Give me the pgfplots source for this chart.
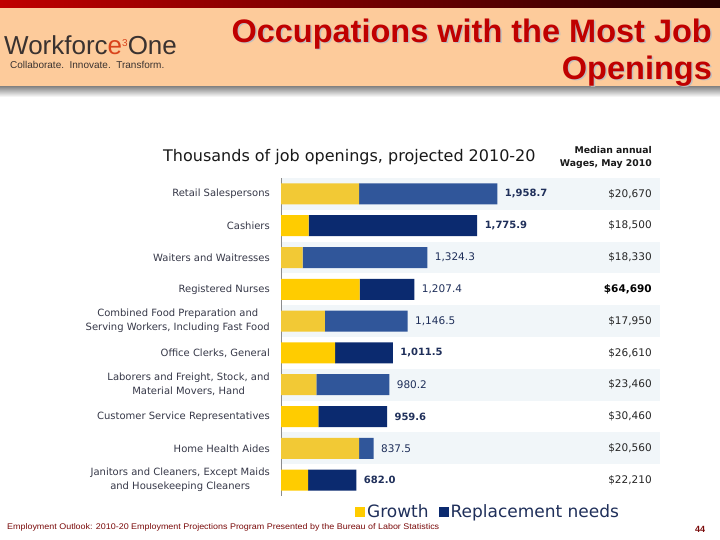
\documentclass[border=0pt]{standalone}
\usepackage{pgfplots}
\pgfplotsset{compat=1.18}
\usepackage{pgfplotstable}
\usepackage{fontspec}
\setmainfont{DejaVu Sans}
\newfontfamily\arialfont{Liberation Sans}

\definecolor{hdrpeach}{HTML}{FDCB9B}
\definecolor{hdrred}{HTML}{C00000}
\definecolor{titlered}{HTML}{C00000}
\definecolor{logogray}{HTML}{3A3230}
\definecolor{logored}{HTML}{D9441C}
\definecolor{yelA}{HTML}{F2C935}
\definecolor{yelB}{HTML}{FFCC00}
\definecolor{bluA}{HTML}{30569A}
\definecolor{bluB}{HTML}{0B2A6F}
\definecolor{stripe}{HTML}{F1F6F9}
\definecolor{labgray}{HTML}{363848}
\definecolor{valblue}{HTML}{1F2F5A}
\definecolor{legtext}{HTML}{1F2F5A}
\definecolor{footred}{HTML}{7A0A0A}

% growth, replacement needs, total (thousands), row 0 = top; p = 1 on the darker rows
\pgfplotstableread{
row p g r t
0 0 706.8 1251.9 1958.7
1 1 250.2 1525.7 1775.9
2 0 196.3 1128.0 1324.3
3 1 711.9 495.5 1207.4
4 0 398.0 748.5 1146.5
5 1 489.5 522.0 1011.5
6 0 319.1 661.1 980.2
7 1 338.4 621.2 959.6
8 0 706.3 131.2 837.5
9 1 246.4 435.6 682.0
}\jobs

\pgfplotsset{
  common/.style={
    at={(281pt,44pt)}, anchor=south west,
    width=379pt, height=318pt, scale only axis,
    xmin=0, xmax=3430, ymin=-0.5, ymax=9.5, y dir=reverse,
    axis line style={draw=none},
    major tick length=0pt,
    xtick=\empty,
  },
}

\begin{document}
\begin{tikzpicture}[x=1pt,y=1pt]
\useasboundingbox (0,0) rectangle (720,540);
\fill[white] (0,0) rectangle (720,540);

% header band
\fill[hdrpeach] (0,452) rectangle (720,532);
\shade[left color=hdrred, right color=black!85!red] (0,532) rectangle (720,540);
\shade[top color=black!45, bottom color=white] (0,443) rectangle (720,453);

% logo
\node[anchor=west, inner sep=0pt, font=\fontsize{26}{28}\selectfont\arialfont, text=logogray] at (4,495)
  {Workforc\textcolor{logored}{e}\raisebox{8pt}{\textcolor{logored}{\fontsize{10}{10}\selectfont 3}}One};
\node[anchor=west, inner sep=0pt, font=\fontsize{10}{12}\selectfont\arialfont, text=logogray] at (10,475)
  {Collaborate.\ \ Innovate.\ \ Transform.};

% title
\foreach \dx/\dy/\c in {1.5/-1.5/black!25, 0/0/titlered}{
  \node[anchor=east, inner sep=0pt, font=\arialfont\bfseries\fontsize{32.5}{36}\selectfont, text=\c] at (712+\dx,506+\dy) {Occupations with the Most Job};
  \node[anchor=east, inner sep=0pt, font=\arialfont\bfseries\fontsize{32.5}{36}\selectfont, text=\c] at (712+\dx,469+\dy) {Openings};
}

% column headings
\node[anchor=west, inner sep=0pt, font=\fontsize{16}{18}\selectfont, text=black!90] at (163,383) {Thousands of job openings, projected 2010-20};
\node[anchor=east, align=right, inner sep=0pt, font=\bfseries\fontsize{9.3}{13}\selectfont, text=black!90] at (652,382.5) {Median annual\\Wages, May 2010};

% row stripes
\begin{axis}[common, ytick=\empty]
\foreach \k in {0,2,4,6,8}{
  \edef\tmp{\noexpand\fill[stripe] (axis cs:0,\k-0.5) rectangle (axis cs:3430,\k+0.5);}
  \tmp
}
\end{axis}

% bars
\begin{axis}[common,
  xbar stacked, bar width=21pt,
  ytick={0,...,9},
  yticklabels={Retail Salespersons, Cashiers, Waiters and Waitresses, Registered Nurses,
    {Combined Food Preparation and\\Serving Workers, Including Fast Food},
    {Office Clerks, General}, {Laborers and Freight, Stock, and\\Material Movers, Hand},
    Customer Service Representatives, Home Health Aides,
    {Janitors and Cleaners, Except Maids\\and Housekeeping Cleaners}},
  yticklabel style={align=center, inner sep=0pt, xshift=-11pt, text=labgray,
    font=\fontsize{10}{14}\selectfont},
]
\addplot[fill=yelA, draw=none] table[y=row, x expr={(1-\thisrow{p})*\thisrow{g}}] {\jobs};
\addplot[fill=yelB, draw=none] table[y=row, x expr={\thisrow{p}*\thisrow{g}}] {\jobs};
\addplot[fill=bluA, draw=none] table[y=row, x expr={(1-\thisrow{p})*\thisrow{r}}] {\jobs};
\addplot[fill=bluB, draw=none] table[y=row, x expr={\thisrow{p}*\thisrow{r}}] {\jobs};
\draw[black!45] (axis cs:0,-0.5) -- (axis cs:0,9.5);
\end{axis}

% value labels, wages and legend
\begin{axis}[common, ytick=\empty,
  legend style={at={(0.187,-0.05)}, anchor=west, draw=none, fill=none,
    font=\fontsize{17}{19}\selectfont, text=legtext,
    /tikz/every even column/.append style={column sep=8pt}},
  legend columns=2,
  legend image code/.code={\fill[#1] (0pt,-5pt) rectangle (10pt,5pt);},
]
\addlegendimage{fill=yelB, draw=none}
\addlegendentry{Growth}
\addlegendimage{fill=bluB, draw=none}
\addlegendentry{Replacement needs}

\addplot[forget plot, only marks, mark=none, point meta=x,
  nodes near coords={\pgfmathprintnumber[assume math mode=true, fixed, fixed zerofill, precision=1, 1000 sep={,}]{\pgfplotspointmeta}},
  every node near coord/.append style={anchor=west, xshift=4pt, text=valblue, font=\bfseries\fontsize{10}{12}\selectfont}]
  coordinates {(1958.7,0) (1775.9,1) (1011.5,5) (959.6,7) (682.0,9)};
\addplot[forget plot, only marks, mark=none, point meta=x,
  nodes near coords={\pgfmathprintnumber[assume math mode=true, fixed, fixed zerofill, precision=1, 1000 sep={,}]{\pgfplotspointmeta}},
  every node near coord/.append style={anchor=west, xshift=4pt, text=valblue, font=\fontsize{10.5}{12}\selectfont}]
  coordinates {(1324.3,2) (1207.4,3) (1146.5,4) (980.2,6) (837.5,8)};

% median annual wages
\addplot[forget plot, only marks, mark=none, point meta=explicit,
  nodes near coords={\$\pgfmathprintnumber[assume math mode=true, fixed, precision=0, 1000 sep={,}]{\pgfplotspointmeta}},
  every node near coord/.append style={anchor=east, inner xsep=0pt, text=black!85, font=\fontsize{10.5}{12}\selectfont}]
  coordinates {(3357,0) [20670] (3357,1) [18500] (3357,2) [18330] (3357,4) [17950]
    (3357,5) [26610] (3357,6) [23460] (3357,7) [30460] (3357,8) [20560] (3357,9) [22210]};
\addplot[forget plot, only marks, mark=none, point meta=explicit,
  nodes near coords={\$\pgfmathprintnumber[assume math mode=true, fixed, precision=0, 1000 sep={,}]{\pgfplotspointmeta}},
  every node near coord/.append style={anchor=east, inner xsep=0pt, text=black, font=\bfseries\fontsize{10.5}{12}\selectfont}]
  coordinates {(3357,3) [64690]};
\end{axis}

% footer
\node[anchor=west, inner sep=0pt, font=\arialfont\fontsize{8.2}{9}\selectfont, text=footred] at (7,13)
  {\scalebox{1.09}[1]{Employment Outlook: 2010-20 Employment Projections Program Presented by the Bureau of Labor Statistics}};
\node[inner sep=0pt, font=\arialfont\bfseries\fontsize{9}{10}\selectfont, text=footred] at (700,11) {44};
\end{tikzpicture}
\end{document}
